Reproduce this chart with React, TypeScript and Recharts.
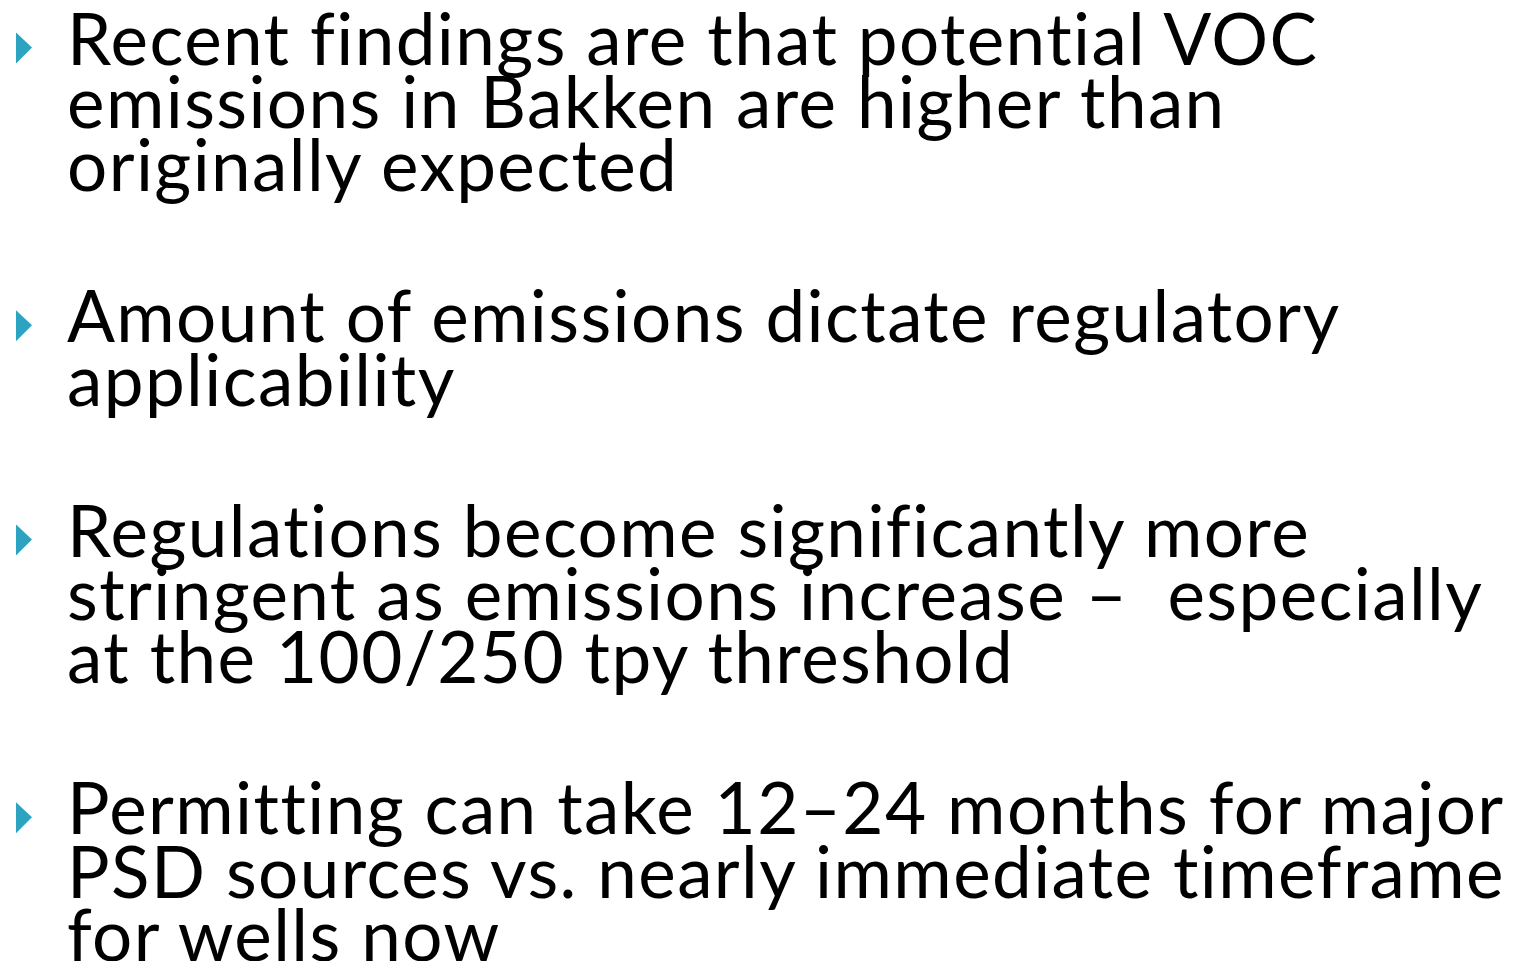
import { ScatterChart, Scatter, XAxis, YAxis } from "recharts";

document.body.style.margin = "0";

const W = 1514;
const H = 961;

// slide bullets, one entry per rendered line
const bullets: string[][] = [
  ["Recent findings are that potential VOC", "emissions in Bakken are higher than", "originally expected"],
  ["Amount of emissions dictate regulatory", "applicability"],
  ["Regulations become significantly more", "stringent as emissions increase –  especially", "at the 100/250 tpy threshold"],
  ["Permitting can take 12–24 months for major", "PSD sources vs. nearly immediate timeframe", "for wells now"],
];

const TEXT_X = 67;
const FIRST_BASELINE = 65;
const LINE_STEP = 63.8;
const PARA_GAP = 88;

type Row = { x: number; y: number; text: string; first: boolean };

const rows: Row[] = [];
let lineCount = 0;
bullets.forEach((lines, p) => {
  lines.forEach((text, l) => {
    rows.push({
      x: TEXT_X,
      y: FIRST_BASELINE + lineCount * LINE_STEP + p * PARA_GAP,
      text,
      first: l === 0,
    });
    lineCount++;
  });
});

function LineShape(props: any) {
  const { cx, cy, payload } = props;
  if (cx == null || cy == null) return null;
  return (
    <g>
      {payload.first && (
        <polygon
          points={`${cx - 51},${cy - 32} ${cx - 35},${cy - 17} ${cx - 51},${cy - 1}`}
          fill="#2ca3c1"
        />
      )}
      <text
        x={cx}
        y={cy}
        fontFamily="Lato, 'DejaVu Sans', sans-serif"
        fontSize={71}
        letterSpacing={1.4}
        fill="#000"
        style={{ whiteSpace: "pre" }}
      >
        {payload.text}
      </text>
    </g>
  );
}

export default function App() {
  return (
    <div style={{ width: W, height: H, background: "#fff" }}>
      <ScatterChart width={W} height={H} margin={{ top: 0, right: 0, bottom: 0, left: 0 }}>
        <XAxis type="number" dataKey="x" domain={[0, W]} hide />
        <YAxis type="number" dataKey="y" domain={[0, H]} reversed hide />
        <Scatter data={rows} shape={LineShape} isAnimationActive={false} />
      </ScatterChart>
    </div>
  );
}
